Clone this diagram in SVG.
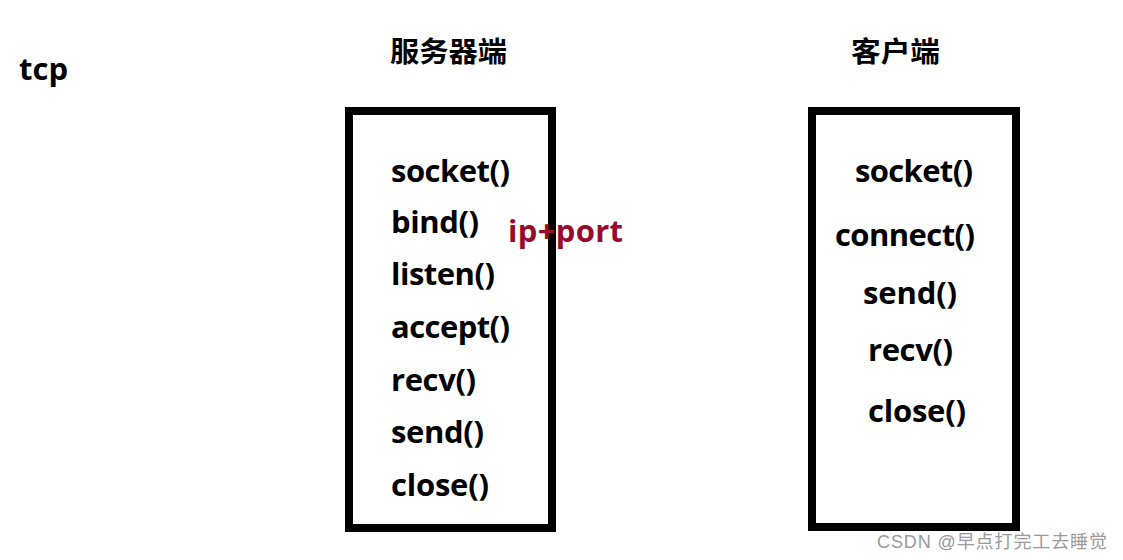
<svg xmlns="http://www.w3.org/2000/svg" width="1123" height="560" viewBox="0 0 1123 560">
<style>
.t{font-family:"Open Sans","Liberation Sans",sans-serif;font-weight:bold;font-size:31px;fill:#000}
.h{font-family:"Noto Sans CJK SC","Noto Sans",sans-serif;font-weight:bold;font-size:28px;fill:#000}
.box{fill:none;stroke:#000;stroke-width:8}
.red{font-family:"Open Sans","Liberation Sans",sans-serif;font-weight:bold;font-size:31px;fill:#960C2C}
.wm{font-family:"Liberation Sans","Noto Sans CJK SC",sans-serif;font-size:18px;fill:#9a9a9a}
</style>
<rect width="1123" height="560" fill="#fff"/>
<g id="label-tcp"><text class="t" x="19" y="80" font-size="28">tcp</text></g>
<g id="server">
<text class="h" x="390" y="62" textLength="117" lengthAdjust="spacingAndGlyphs">服务器端</text>
<rect class="box" x="349" y="111" width="203" height="417"/>
<text class="t" x="391" y="182" textLength="119">socket()</text>
<text class="t" x="391" y="233" textLength="88">bind()</text>
<text class="t" x="391" y="285" textLength="104">listen()</text>
<text class="t" x="391" y="338" textLength="119">accept()</text>
<text class="t" x="391" y="391" textLength="85">recv()</text>
<text class="t" x="391" y="443" textLength="93">send()</text>
<text class="t" x="391" y="496" textLength="98">close()</text>
</g>
<g id="ip-port"><text class="red" x="508" y="242" textLength="115">ip+port</text></g>
<g id="client">
<text class="h" x="851" y="62" textLength="89" lengthAdjust="spacingAndGlyphs">客户端</text>
<rect class="box" x="812" y="111" width="204" height="416"/>
<text class="t" x="855" y="182" textLength="118">socket()</text>
<text class="t" x="835" y="246" textLength="140">connect()</text>
<text class="t" x="863" y="304" textLength="94">send()</text>
<text class="t" x="868" y="361" textLength="85">recv()</text>
<text class="t" x="868" y="422" textLength="98">close()</text>
</g>
<g id="connectors"></g>
<g id="watermark"><text class="wm" x="877" y="548" textLength="230">CSDN @早点打完工去睡觉</text></g>
</svg>
